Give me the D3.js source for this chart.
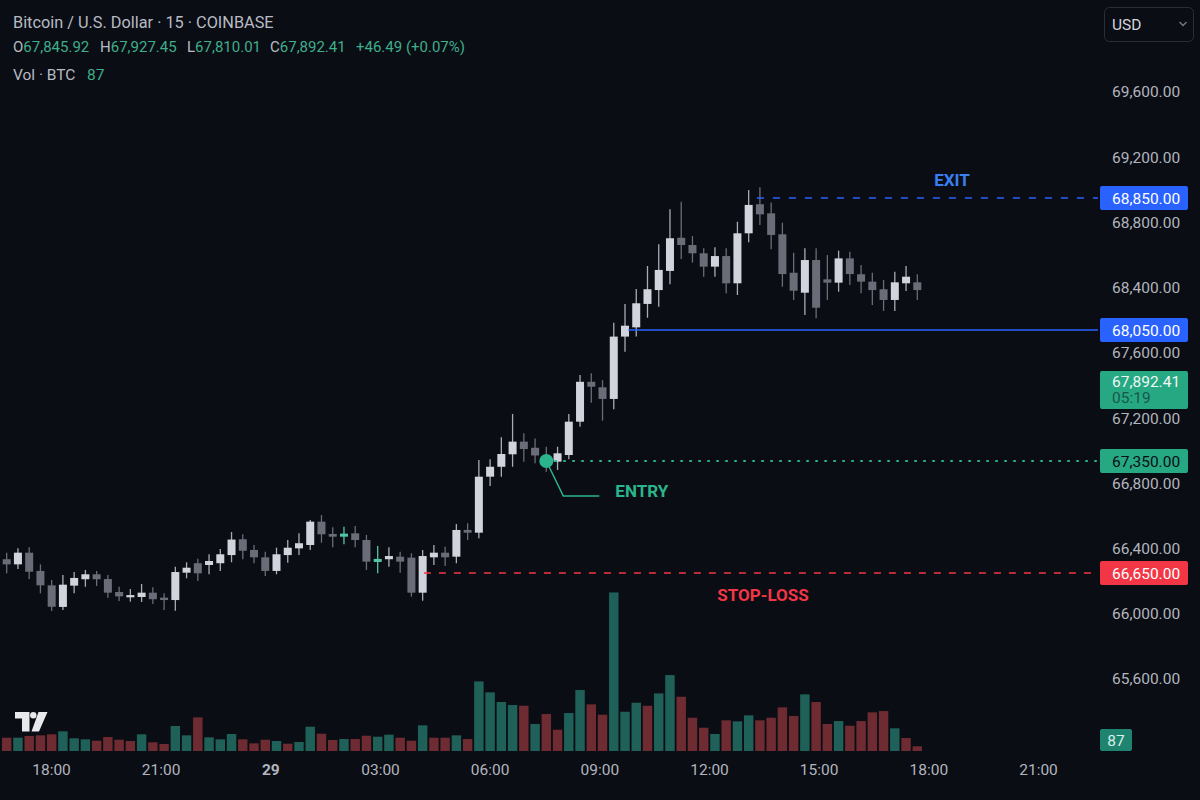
<!DOCTYPE html>
<html><head><meta charset="utf-8">
<script src="https://cdn.jsdelivr.net/npm/d3@7"></script>
<style>
html,body{margin:0;padding:0;background:#0a0d14;overflow:hidden;}
svg{display:block;font-family:Roboto,"Noto Sans",sans-serif;}
</style></head><body>
<svg id="c" width="1200" height="800"></svg>
<script>
// ---------- DATA ----------
const opens  = [66736,66704,66777,66663,66573,66438,66571,66611,66642,66612,66531,66498,66500,66527,66496,66481,66652,66711,66700,66711,66762,66861,66794,66748,66663,66762,66804,66825,66971,66894,66877,66898,66856,66719,66736,66752,66746,66527,66748,66777,66752,66919,66902,67252,67314,67396,67483,67441,67364,67346,67391,67620,67893,67856,67776,68030,68066,68208,68292,68408,68609,68565,68515,68434,68498,68333,68636,68812,68757,68630,68397,68276,68474,68357,68337,68484,68388,68343,68297,68232,68333,68339];
const highs  = [66777,66804,66811,66704,66606,66638,66656,66669,66663,66638,66564,66550,66581,66561,66523,66689,66717,66739,66767,66800,66906,66892,66825,66783,66808,66856,66898,66981,67012,66936,66939,66944,66888,66819,66811,66783,66773,66794,66825,66814,66956,66961,67357,67362,67513,67673,67540,67505,67448,67448,67673,67914,67919,67898,68094,68208,68298,68438,68569,68782,68828,68620,68545,68551,68545,68706,68898,68915,68822,68700,68518,68545,68545,68504,68531,68525,68444,68397,68353,68403,68438,68388];
const lows   = [66648,66675,66612,66523,66413,66419,66523,66564,66569,66496,66475,66471,66469,66456,66419,66414,66617,66600,66642,66663,66717,66736,66711,66631,66642,66714,66762,66794,66839,66811,66829,66811,66669,66648,66689,66652,66502,66477,66700,66694,66711,66856,66867,67194,67252,67314,67346,67336,67283,67294,67362,67586,67750,67627,67705,67984,68030,68124,68191,68327,68480,68458,68373,68373,68272,68262,68582,68686,68539,68312,68232,68141,68121,68232,68282,68323,68272,68202,68165,68165,68286,68232];
const closes = [66704,66777,66658,66573,66439,66577,66619,66642,66611,66527,66504,66512,66527,66486,66481,66656,66683,66648,66725,66767,66859,66789,66748,66663,66767,66808,66836,66971,66892,66877,66896,66856,66721,66738,66756,66721,66527,66756,66777,66748,66919,66902,67252,67314,67398,67483,67432,67388,67338,67403,67620,67893,67860,67776,68030,68076,68212,68297,68414,68606,68565,68515,68434,68498,68333,68636,68808,68751,68626,68389,68288,68474,68185,68337,68484,68389,68343,68292,68232,68339,68373,68292];
const highlightedCandles = [30, 33];
const volumes = [246,246,278,290,309,364,235,216,191,259,209,185,309,161,130,463,290,623,253,216,315,216,142,209,185,135,167,450,320,204,222,222,283,265,302,246,191,475,246,246,290,222,1289,1086,907,851,838,500,685,394,703,1129,864,672,2936,727,894,838,1067,1406,1005,616,431,315,568,549,660,568,616,808,648,1049,907,500,555,468,555,716,740,420,241,87];
const volumeSide = ("duddduuudd"+"ddudduuduu"+"uddduduudd"+"udduuddudd"+"uduuuududd"+"uudduuuduu"+"ddduduuddd"+"dudduddddu"+"dd").split("");

const exitPrice = 68850, targetPrice = 68050, entryPrice = 67350, stopPrice = 66650;
const lastPrice = 67892.41, countdown = "05:19", lastVolume = 87;
const yTickValues = [69600,69200,68800,68400,67600,67200,66800,66400,66000,65600];
const timeTickDates = ["2024-05-28 18:00","2024-05-28 21:00","2024-05-29 00:00","2024-05-29 03:00","2024-05-29 06:00","2024-05-29 09:00","2024-05-29 12:00","2024-05-29 15:00","2024-05-29 18:00","2024-05-29 21:00"];
const timeTickLabels = ["18:00","21:00","29","03:00","06:00","09:00","12:00","15:00","18:00","21:00"];
const headerTitle = "Bitcoin / U.S. Dollar · 15 · COINBASE";
const headerKeys = ["O","H","L","C",""];
const headerVals = ["67,845.92","67,927.45","67,810.01","67,892.41","+46.49 (+0.07%)"];

// ---------- CHART ----------
const W = 1200, H = 800;
const svg = d3.select("#c");
svg.append("rect").attr("width", W).attr("height", H).attr("fill", "#0a0d14");

const n = opens.length;
const x = d3.scaleLinear().domain([0, n - 1]).range([6.7, 917.3]);
const y = d3.scaleLinear()
  .domain([stopPrice, entryPrice, lastPrice, targetPrice, exitPrice])
  .range([573, 461, 382, 330, 198]);
const yv = d3.scaleLinear().domain([0, 3000]).range([751, 589]);
const parse = d3.timeParse("%Y-%m-%d %H:%M");
const xt = d3.scaleTime().domain([parse(timeTickDates[0]), parse(timeTickDates[timeTickDates.length - 1])]).range([51, 1038]);
const yt = d3.scalePoint().domain(yTickValues).range([92, 679]);
const fmt = d3.format(",.2f");
const step = x(1) - x(0);
const axisFont = 15.5;

// volume
svg.append("g").selectAll("rect").data(volumes).join("rect")
  .attr("x", (d, i) => x(i) - step * 0.42)
  .attr("width", step * 0.84)
  .attr("y", d => yv(d))
  .attr("height", d => yv(0) - yv(d))
  .attr("fill", (d, i) => volumeSide[i] === "u" ? "#1f6158" : "#6e2b31");

// candles
const cd = opens.map((o, i) => ({i, o, h: highs[i], l: lows[i], c: closes[i]}));
const kind = d => highlightedCandles.includes(d.i) ? "t" : (d.c >= d.o ? "u" : "d");
const bodyCol = {u: "#d1d4dc", d: "#6a6d77", t: "#52c7a3"};
const wickCol = {u: "#a9acb4", d: "#6a6d77", t: "#52c7a3"};
const g = svg.append("g");
g.selectAll("line").data(cd).join("line")
  .attr("x1", d => x(d.i)).attr("x2", d => x(d.i))
  .attr("y1", d => y(d.h)).attr("y2", d => y(d.l))
  .attr("stroke", d => wickCol[kind(d)]).attr("stroke-width", 1.3);
g.selectAll("rect").data(cd).join("rect")
  .attr("x", d => x(d.i) - 4).attr("width", 8)
  .attr("y", d => Math.min(y(d.o), y(d.c)))
  .attr("height", d => Math.max(1.5, Math.abs(y(d.o) - y(d.c))))
  .attr("fill", d => bodyCol[kind(d)]);

// price level lines
const lineEnd = 1098;
const blue = "#2962ff", green = "#26a883", red = "#f23645";
svg.append("line").attr("x1", x(67) - 3).attr("x2", lineEnd).attr("y1", y(exitPrice)).attr("y2", y(exitPrice))
  .attr("stroke", blue).attr("stroke-width", 1.5).attr("stroke-dasharray", "7,9");
svg.append("line").attr("x1", x(56) - 8).attr("x2", lineEnd).attr("y1", y(targetPrice)).attr("y2", y(targetPrice))
  .attr("stroke", blue).attr("stroke-width", 1.5);
svg.append("line").attr("x1", x(48) + 8).attr("x2", lineEnd).attr("y1", y(entryPrice)).attr("y2", y(entryPrice))
  .attr("stroke", "#2bb58c").attr("stroke-width", 1.8).attr("stroke-dasharray", "2.5,6.5");
svg.append("line").attr("x1", x(38) - 10).attr("x2", lineEnd).attr("y1", y(stopPrice)).attr("y2", y(stopPrice))
  .attr("stroke", red).attr("stroke-width", 1.5).attr("stroke-dasharray", "7,8");

// entry marker
const ex = x(48), ey = y(entryPrice);
svg.append("path").attr("d", `M${ex},${ey} L${ex + 17},${ey + 35} L${ex + 53},${ey + 35}`)
  .attr("fill", "none").attr("stroke", "#2bb58c").attr("stroke-width", 1.5);
svg.append("circle").attr("cx", ex).attr("cy", ey).attr("r", 7).attr("fill", "#2bb58c");

// annotation texts
const ann = (t, xx, yy, col, anchor) => svg.append("text").text(t).attr("x", xx).attr("y", yy)
  .attr("fill", col).attr("font-size", 17).attr("font-weight", 700).attr("text-anchor", anchor);
ann("EXIT", 952, y(exitPrice) - 12, "#3a7ff0", "middle");
ann("ENTRY", ex + 69, ey + 36, "#2bb58c", "start");
ann("STOP-LOSS", 763, y(stopPrice) + 28, red, "middle");

// right axis ticks
const ya = svg.append("g").attr("transform", "translate(1112,0)")
  .call(d3.axisRight(yt).tickFormat(fmt).tickSize(0).tickPadding(0));
ya.select(".domain").remove();
ya.selectAll("text").attr("fill", "#b2b5be").attr("font-size", axisFont).attr("font-family", "Roboto,sans-serif");

// bottom time axis
const xa = svg.append("g").attr("transform", "translate(0,764)")
  .call(d3.axisBottom(xt).tickValues(timeTickDates.map(parse)).tickFormat((d, i) => timeTickLabels[i]).tickSize(0).tickPadding(0));
xa.select(".domain").remove();
xa.selectAll("text").attr("fill", "#b2b5be").attr("font-size", axisFont).attr("font-family", "Roboto,sans-serif")
  .attr("font-weight", (d, i) => timeTickLabels[i].length < 3 ? 700 : 400);

// price label boxes
function priceBox(val, fill, txtCol) {
  const yy = y(val);
  svg.append("rect").attr("x", 1100).attr("y", yy - 12).attr("width", 88).attr("height", 24).attr("rx", 2).attr("fill", fill);
  svg.append("text").text(fmt(val)).attr("x", 1112).attr("y", yy + 5.5).attr("fill", txtCol).attr("font-size", axisFont);
}
priceBox(exitPrice, blue, "#ffffff");
priceBox(targetPrice, blue, "#ffffff");
priceBox(entryPrice, green, "#0a0d14");
priceBox(stopPrice, red, "#ffffff");

// last price label
const ly = y(lastPrice);
svg.append("rect").attr("x", 1100).attr("y", ly - 11).attr("width", 88).attr("height", 38).attr("rx", 2).attr("fill", green);
svg.append("text").text(fmt(lastPrice)).attr("x", 1112).attr("y", ly + 5).attr("fill", "#f0f7f4").attr("font-size", axisFont);
svg.append("text").text(countdown).attr("x", 1112).attr("y", ly + 21).attr("fill", "#17584a").attr("font-size", axisFont);

// volume label
const vy = Math.min(yv(lastVolume), yv(0) - 11);
svg.append("rect").attr("x", 1100).attr("y", vy - 11).attr("width", 32).attr("height", 22).attr("rx", 2).attr("fill", "#1e8470");
svg.append("text").text(lastVolume).attr("x", 1116).attr("y", vy + 5.5).attr("fill", "#d9efe9").attr("font-size", axisFont).attr("text-anchor", "middle");

// USD button
svg.append("rect").attr("x", 1104.5).attr("y", 7.5).attr("width", 89).attr("height", 34).attr("rx", 5)
  .attr("fill", "none").attr("stroke", "#2a2e39").attr("stroke-width", 1);
svg.append("text").text("USD").attr("x", 1112).attr("y", 30).attr("fill", "#d1d4dc").attr("font-size", 15.5);
svg.append("path").attr("d", "M1179.5,22 L1183,25.5 L1186.5,22").attr("fill", "none").attr("stroke", "#787b86").attr("stroke-width", 1.3);

// header
svg.append("text").text(headerTitle).attr("x", 13).attr("y", 28).attr("fill", "#b8bbc3").attr("font-size", 16.3);
const hx = [13, 100, 187, 270, 356];
headerKeys.forEach((k, i) => {
  const t = svg.append("text").attr("x", hx[i]).attr("y", 52).attr("font-size", 15);
  t.append("tspan").text(k).attr("fill", "#b8bbc3");
  t.append("tspan").text(headerVals[i]).attr("fill", "#3fae8a");
});
const vt = svg.append("text").attr("x", 13).attr("y", 80).attr("font-size", 15.5);
vt.append("tspan").text("Vol · BTC").attr("fill", "#b8bbc3");
svg.append("text").text(lastVolume).attr("x", 87).attr("y", 80).attr("font-size", 15.5).attr("fill", "#3fae8a");

// TradingView logo
const logo = svg.append("g").attr("fill", "#e8e9ec");
logo.append("path").attr("d", "M15,712 L29.5,712 L29.5,731.5 L22,731.5 L22,718.5 L15,718.5 Z");
logo.append("circle").attr("cx", 33.3).attr("cy", 715.2).attr("r", 3.2);
logo.append("path").attr("d", "M38.5,712 L47.5,712 L39,731.5 L31.5,731.5 Z");
</script>
</body></html>
